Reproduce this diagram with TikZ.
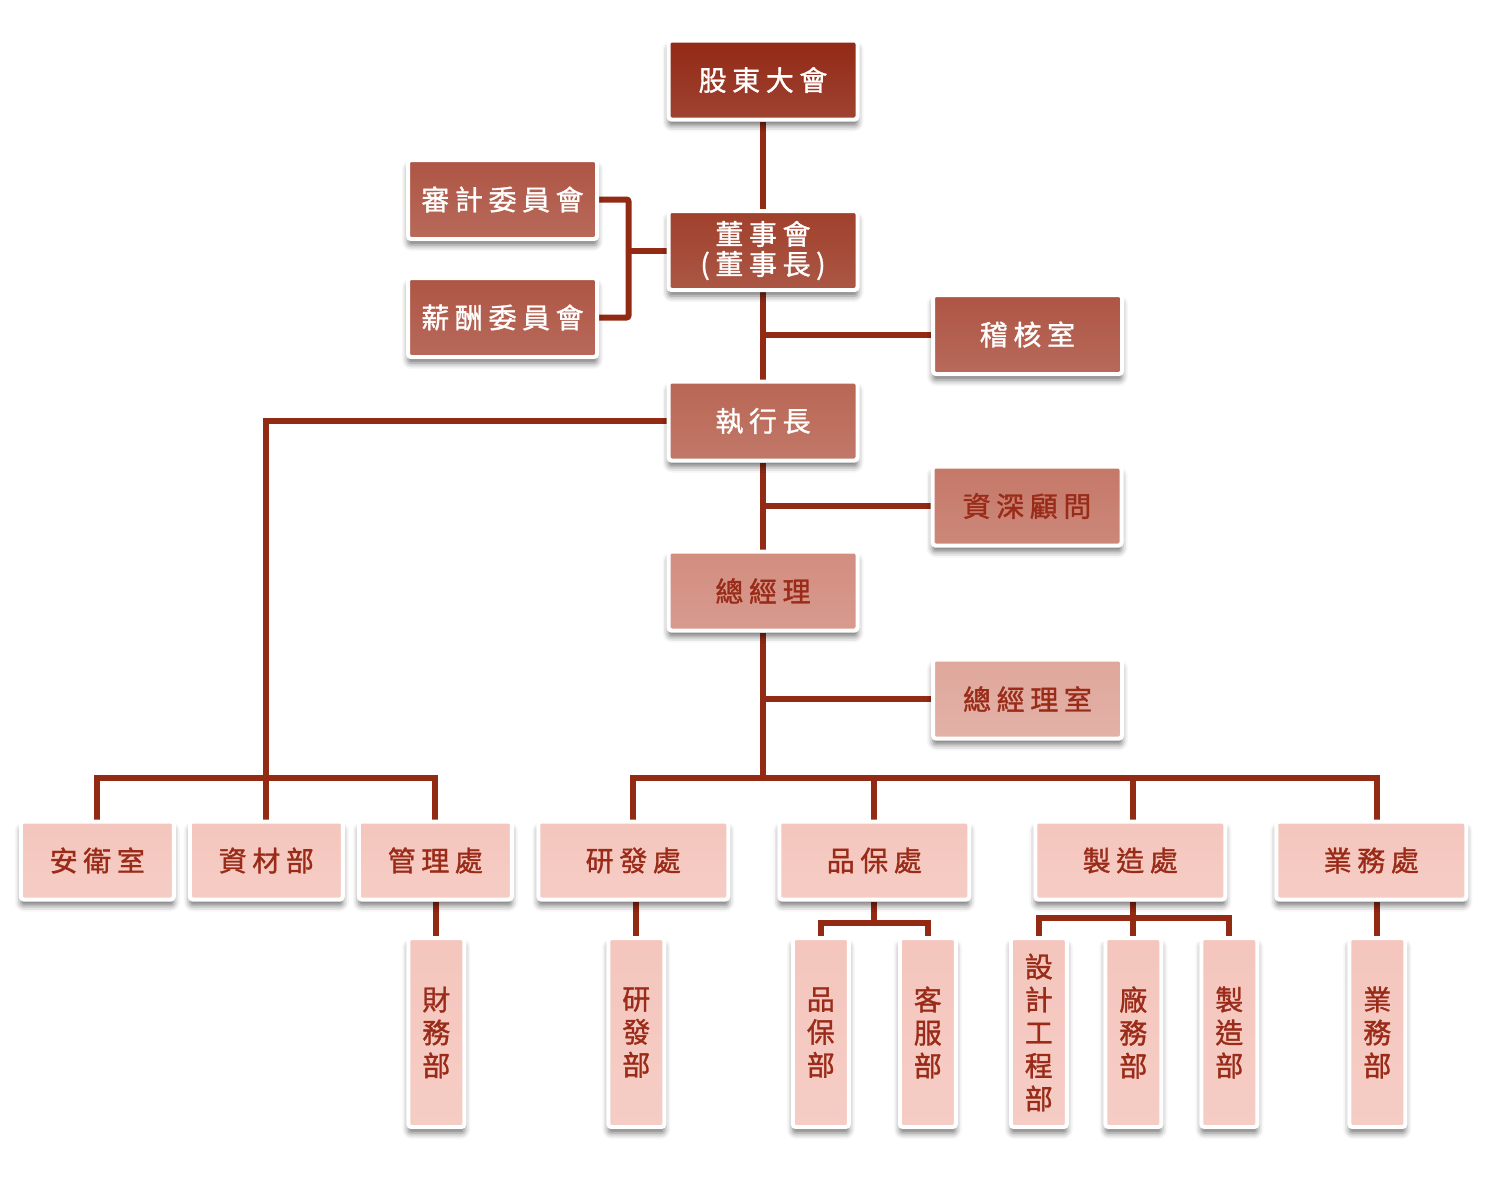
\documentclass[tikz,border=0pt]{standalone}
\usepackage{fontspec}
\usepackage{tikz}
\usetikzlibrary{positioning,shadows.blur}
\newfontfamily\cjk[LetterSpace=20,FakeBold=1.2]{Noto Sans CJK TC}

\definecolor{linered}{HTML}{922A14}
\definecolor{inkred}{HTML}{9A2B19}
\definecolor{lvA}{HTML}{922916}
\definecolor{lvB}{HTML}{A0402C}
\definecolor{lvC}{HTML}{AE5544}
\definecolor{lvD}{HTML}{B96654}
\definecolor{lvE}{HTML}{C57868}
\definecolor{lvF}{HTML}{D28D7F}
\definecolor{lvG}{HTML}{DFA79B}
\definecolor{lvH}{HTML}{F4C6BD}

\pgfdeclarelayer{background}
\pgfsetlayers{background,main}

\begin{document}
\begin{tikzpicture}[%
    x=1pt, y=1pt,
    on grid,
    card/.style={draw=white, line width=4pt, rounded corners=3pt, inner sep=0pt,
        top color=#1, bottom color=#1!88!white, text=inkred,
        font=\cjk\fontsize{28}{33}\selectfont,
        blur shadow={shadow xshift=0pt, shadow yshift=-6pt,
            shadow blur radius=6pt, shadow opacity=55}},
    topbox/.style={card=#1, minimum width=189pt, minimum height=79pt},
    unitbox/.style={card=lvH, minimum width=190pt, minimum height=78pt},
    smallunit/.style={card=lvH, minimum width=153pt, minimum height=78pt},
    deptbox/.style={card=lvH, minimum width=56pt, minimum height=189pt, align=center},
    light/.style={text=white},
    link/.style={draw=linered, line width=6pt}
    ]

    \useasboundingbox (0,0) rectangle (1500,-1200);

    \node[topbox=lvA, light] (gm) at (763,-80) {股東大會};
    \node[topbox=lvB, light, align=center] (board) [below=170.5pt of gm] {董事會\\[-3pt](董事長)};
    \node[topbox=lvC, light] (audit) [above left=51pt and 260.5pt of board] {審計委員會};
    \node[topbox=lvC, light] (pay) [below=118pt of audit] {薪酬委員會};
    \node[topbox=lvC, light] (check) [below right=84pt and 264.5pt of board] {稽核室};
    \node[topbox=lvD, light] (ceo) [below=170.5pt of board] {執行長};
    \node[topbox=lvE] (advisor) [below right=85pt and 264pt of ceo] {資深顧問};
    \node[topbox=lvF] (gmgr) [below=170pt of ceo] {總經理};
    \node[topbox=lvG] (gmo) [below right=108pt and 264.5pt of gmgr] {總經理室};

    \node[unitbox] (rd) [below left=269.5pt and 129.7pt of gmgr] {研發處};
    \node[unitbox] (qa) [right=241pt of rd] {品保處};
    \node[unitbox] (mfg) [right=256pt of qa] {製造處};
    \node[unitbox] (sales) [right=241pt of mfg] {業務處};
    \node[smallunit] (mgmt) [left=198pt of rd] {管理處};
    \node[smallunit] (matl) [left=169pt of mgmt] {資材部};
    \node[smallunit] (safety) [left=169pt of matl] {安衛室};

    \node[deptbox] (fin) [below right=172pt and 1pt of mgmt] {財\\務\\部};
    \node[deptbox] (rdd) [below right=172pt and 3pt of rd] {研\\發\\部};
    \node[deptbox] (qad) [below left=172pt and 53.5pt of qa] {品\\保\\部};
    \node[deptbox] (csd) [below right=172pt and 53.5pt of qa] {客\\服\\部};
    \node[deptbox] (design) [below left=172pt and 91.5pt of mfg] {設\\計\\工\\程\\部};
    \node[deptbox] (plant) [below right=172pt and 3pt of mfg] {廠\\務\\部};
    \node[deptbox] (mfgd) [below right=172pt and 99pt of mfg] {製\\造\\部};
    \node[deptbox] (salesd) [below right=172pt and 6pt of sales] {業\\務\\部};

    \coordinate (brk) at ([xshift=-38pt]board.west);
    \coordinate (lbus) at ([yshift=42pt]matl.north);
    \coordinate (rbus) at (gmgr |- lbus);
    \coordinate (qbus) at ([yshift=-21pt]qa.south);
    \coordinate (mbus) at ([yshift=18pt]plant.north);

    \begin{pgfonlayer}{background}
    \draw[link] (gm) -- (board);
    \draw[link] (board) -- (ceo);
    \draw[link] (ceo) -- (gmgr);
    \draw[link] (gmgr) -- (rbus);
    \draw[link, rounded corners=2pt] (audit.east) -| (brk) |- (pay.east);
    \draw[link] (brk) -- (board.west);
    \draw[link] (check.west) -- (check.west -| board.south);
    \draw[link] (advisor.west) -- (advisor.west -| ceo.south);
    \draw[link] (gmo.west) -- (gmo.west -| gmgr.south);

    \draw[link] (ceo.west) -| (matl.north);
    \draw[link] (safety.north) |- (lbus) -| (mgmt.north);
    \draw[link] (rd.north) |- (rbus) -| (salesd.north |- sales.north);
    \draw[link] (qa.north) -- (qa.north |- rbus);
    \draw[link] (plant.north |- mfg.north) -- (plant.north |- rbus);

    \draw[link] (fin.north) -- (fin.north |- mgmt.south);
    \draw[link] (rdd.north) -- (rdd.north |- rd.south);
    \draw[link] (qa.south) -- (qbus);
    \draw[link] (qad.north) |- (qbus) -| (csd.north);
    \draw[link] (plant.north) -- (plant.north |- mfg.south);
    \draw[link] (design.north) |- (mbus) -| (mfgd.north);
    \draw[link] (salesd.north) -- (salesd.north |- sales.south);
    \end{pgfonlayer}

\end{tikzpicture}
\end{document}
